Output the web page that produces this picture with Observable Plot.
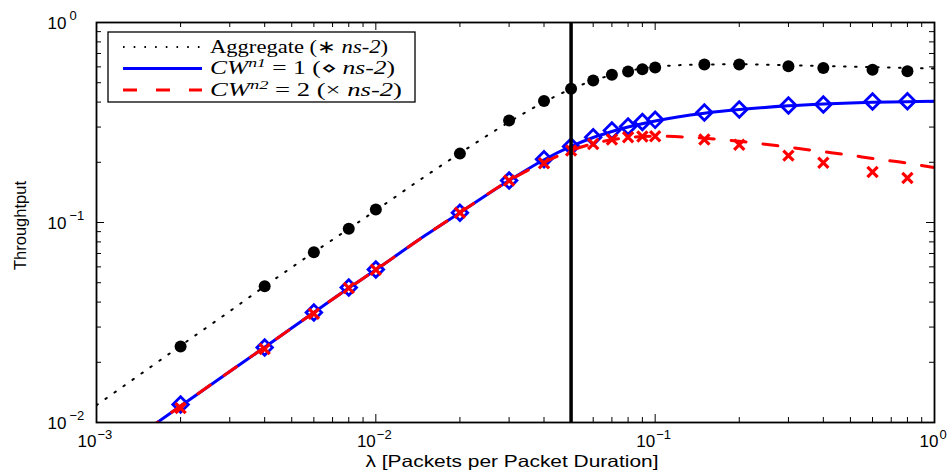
<!DOCTYPE html>
<html>
<head>
<meta charset="utf-8">
<script src="https://cdn.jsdelivr.net/npm/d3@7"></script>
<script src="https://cdn.jsdelivr.net/npm/@observablehq/plot@0.6"></script>
<style>
  html, body { margin: 0; padding: 0; background: #fff; }
  #chart { width: 952px; height: 476px; }
</style>
</head>
<body>
<div id="chart"></div>
<script>
// ---------- data ----------
// simulation (ns-2) sample points
const simX   = [0.002, 0.004, 0.006, 0.008, 0.01, 0.02, 0.03, 0.04, 0.05, 0.06, 0.07, 0.08, 0.09, 0.1, 0.15, 0.2, 0.3, 0.4, 0.6, 0.8];
const aggSim = [0.024, 0.048, 0.071, 0.093, 0.116, 0.221, 0.324, 0.405, 0.466, 0.513, 0.548, 0.569, 0.584, 0.596, 0.617, 0.617, 0.605, 0.593, 0.580, 0.571];
const cw1Sim = [0.0123, 0.0237, 0.0355, 0.0473, 0.0582, 0.112, 0.162, 0.207, 0.240, 0.267, 0.288, 0.302, 0.318, 0.326, 0.355, 0.367, 0.385, 0.389, 0.403, 0.404];
const cw2Sim = [0.0118, 0.0233, 0.035, 0.047, 0.058, 0.112, 0.162, 0.198, 0.229, 0.247, 0.260, 0.267, 0.269, 0.270, 0.260, 0.245, 0.216, 0.199, 0.179, 0.167];

// analytical curves
const aggX = [0.001, 0.0015, 0.002, 0.003, 0.004, 0.006, 0.008, 0.01, 0.015, 0.02, 0.03, 0.04, 0.05, 0.06, 0.07, 0.08, 0.1, 0.15, 0.2, 0.3, 0.4, 0.5, 0.6, 0.8, 1.0];
const aggY = [0.0122, 0.0182, 0.0242, 0.036, 0.048, 0.071, 0.093, 0.115, 0.17, 0.222, 0.318, 0.40, 0.465, 0.512, 0.547, 0.572, 0.600, 0.617, 0.618, 0.612, 0.606, 0.602, 0.598, 0.592, 0.588];
const cwX  = [0.0015, 0.002, 0.003, 0.004, 0.006, 0.008, 0.01, 0.015, 0.02, 0.03, 0.04, 0.05, 0.06, 0.07, 0.08, 0.1, 0.15, 0.2, 0.3, 0.4, 0.5, 0.6, 0.8, 1.0];
const cw1Y = [0.0091, 0.0121, 0.018, 0.0238, 0.0355, 0.047, 0.058, 0.086, 0.112, 0.162, 0.206, 0.240, 0.266, 0.285, 0.300, 0.322, 0.352, 0.367, 0.383, 0.391, 0.396, 0.399, 0.402, 0.404];
const cw2Y = [0.0091, 0.0121, 0.018, 0.0238, 0.0355, 0.047, 0.058, 0.086, 0.112, 0.162, 0.200, 0.229, 0.248, 0.259, 0.266, 0.270, 0.264, 0.255, 0.238, 0.226, 0.217, 0.209, 0.198, 0.188];

const markerX = [0.05];

// ticks
const xMajor = [0.001, 0.01, 0.1, 1];
const xTickExp = ["\u22123", "\u22122", "\u22121", "0"];
const xMinor = [0.002,0.003,0.004,0.005,0.006,0.007,0.008,0.009,
                0.02,0.03,0.04,0.05,0.06,0.07,0.08,0.09,
                0.2,0.3,0.4,0.5,0.6,0.7,0.8,0.9];
const yMajor = [0.01, 0.1, 1];
const yTickExp = ["\u22122", "\u22121", "0"];
const yMinor = [0.02,0.03,0.04,0.05,0.06,0.07,0.08,0.09,
                0.2,0.3,0.4,0.5,0.6,0.7,0.8,0.9];
const tickBase = "10";

const xTitle = "\u03bb [Packets per Packet Duration]";
const yTitle = "Throughtput";

// legend entries
const legendSeries = ["Aggregate", "CW", "CW"];
const legendSup    = ["", "n1", "n2"];
const legendMid    = [" (\u2217 ", " = 1 (\u22c4 ", " = 2 (\u00d7 "];
const legendSim    = "ns-2";

// ---------- layout ----------
const W = 952, H = 476;
const mL = 96, mR = 18, mT = 22, mB = 54;
const iw = W - mL - mR, ih = H - mT - mB;
const sans = "'Liberation Sans', Arial, Helvetica, sans-serif";
const serif = "'Liberation Serif', 'Times New Roman', serif";

const agg = aggX.map((x, i) => ({x, y: aggY[i]}));
const cw1 = cwX.map((x, i) => ({x, y: cw1Y[i]}));
const cw2 = cwX.map((x, i) => ({x, y: cw2Y[i]}));
const sim = simX.map((x, i) => ({x, agg: aggSim[i], c1: cw1Sim[i], c2: cw2Sim[i]}));
const xT = xMajor.map((v, i) => ({v, e: xTickExp[i]}));
const yT = yMajor.map((v, i) => ({v, e: yTickExp[i]}));

const tickLen = {major: 8, minor: 5};
const tickMarks = [];
for (const [vals, len] of [[xMajor, tickLen.major], [xMinor, tickLen.minor]]) {
  tickMarks.push(Plot.tickX(vals, {x: d => d, insetTop: ih - len, stroke: "black", strokeWidth: 1}));
  tickMarks.push(Plot.tickX(vals, {x: d => d, insetBottom: ih - len, stroke: "black", strokeWidth: 1}));
}
for (const [vals, len] of [[yMajor, tickLen.major], [yMinor, tickLen.minor]]) {
  tickMarks.push(Plot.tickY(vals, {y: d => d, insetRight: iw - len, stroke: "black", strokeWidth: 1}));
  tickMarks.push(Plot.tickY(vals, {y: d => d, insetLeft: iw - len, stroke: "black", strokeWidth: 1}));
}

const chart = Plot.plot({
  width: W, height: H,
  marginLeft: mL, marginRight: mR, marginTop: mT, marginBottom: mB,
  x: {type: "log", domain: [1e-3, 1], axis: null},
  y: {type: "log", domain: [1e-2, 1], axis: null},
  style: {background: "white", overflow: "visible", fontFamily: sans},
  marks: [
    ...tickMarks,
    // aggregate
    Plot.line(agg, {x: "x", y: "y", stroke: "black", strokeWidth: 2, strokeDasharray: "1.6,9.4", curve: "monotone-x", clip: true}),
    Plot.dot(sim, {x: "x", y: "agg", r: 6, fill: "black", stroke: "none"}),
    // CW n1 = 1
    Plot.line(cw1, {x: "x", y: "y", stroke: "#0000ff", strokeWidth: 3, curve: "monotone-x", clip: true}),
    Plot.dot(sim, {x: "x", y: "c1", symbol: "diamond2", r: 7, stroke: "#0000ff", strokeWidth: 2.8, fill: "none"}),
    // CW n2 = 2
    Plot.line(cw2, {x: "x", y: "y", stroke: "#ff0000", strokeWidth: 3, strokeDasharray: "15,17", curve: "monotone-x", clip: true}),
    Plot.dot(sim, {x: "x", y: "c2", symbol: "times", r: 4.7, stroke: "#ff0000", strokeWidth: 3.2}),
    // vertical marker
    Plot.ruleX(markerX, {x: d => d, stroke: "black", strokeWidth: 3.5}),
    Plot.frame({stroke: "black", strokeWidth: 1.8}),
    // x tick labels
    Plot.text(xT, {filter: d => d.v < 1, x: "v", text: () => tickBase, frameAnchor: "bottom", textAnchor: "end", dy: 24.5, fontSize: 17, fontFamily: sans}),
    Plot.text(xT, {filter: d => d.v < 1, x: "v", text: "e", frameAnchor: "bottom", textAnchor: "start", dx: 1, dy: 16, fontSize: 13, fontFamily: sans}),
    Plot.text(xT, {filter: d => d.v >= 1, x: "v", text: () => tickBase, frameAnchor: "bottom", textAnchor: "end", dx: 4, dy: 24.5, fontSize: 17, fontFamily: sans}),
    Plot.text(xT, {filter: d => d.v >= 1, x: "v", text: "e", frameAnchor: "bottom", textAnchor: "start", dx: 5, dy: 16, fontSize: 13, fontFamily: sans}),
    // y tick labels
    Plot.text(yT, {y: "v", text: () => tickBase, frameAnchor: "left", textAnchor: "start", dx: -49, dy: 1.5, fontSize: 17, fontFamily: sans}),
    Plot.text(yT, {y: "v", text: "e", frameAnchor: "left", textAnchor: "start", dx: -27, dy: -7, fontSize: 13, fontFamily: sans}),
    // axis titles
    Plot.text([xTitle], {text: d => d, frameAnchor: "bottom", textAnchor: "middle", dx: -3.5, dy: 44.5, fontSize: 16.5, fontFamily: sans}),
    Plot.text([yTitle], {text: d => d, frameAnchor: "left", textAnchor: "middle", rotate: -90, dx: -76, dy: 3, fontSize: 16.5, fontFamily: sans})
  ]
});

document.getElementById("chart").appendChild(chart);

// stretch x title to match the reference width
const svg = d3.select(chart);
svg.selectAll("text").filter(function() { return this.textContent === xTitle; })
  .attr("textLength", 293).attr("lengthAdjust", "spacingAndGlyphs");

// ---------- legend ----------
const leg = svg.append("g").attr("class", "legend").attr("text-anchor", "start");
leg.append("rect").attr("x", 108).attr("y", 32).attr("width", 307).attr("height", 70)
  .attr("fill", "white").attr("stroke", "black").attr("stroke-width", 1.3);
const rowY = [47, 68.5, 90];
const lineStyles = [
  {stroke: "black", width: 2, dash: "1.6,9.1"},
  {stroke: "#0000ff", width: 3, dash: null},
  {stroke: "#ff0000", width: 3, dash: "14,19"}
];
const textLens = [178, 185, 192];
legendSeries.forEach((name, i) => {
  const st = lineStyles[i];
  const ln = leg.append("line").attr("x1", 123).attr("x2", 202).attr("y1", rowY[i]).attr("y2", rowY[i])
    .attr("stroke", st.stroke).attr("stroke-width", st.width);
  if (st.dash) ln.attr("stroke-dasharray", st.dash);
  const t = leg.append("text").attr("x", 210).attr("y", rowY[i] + 5.5)
    .attr("text-anchor", "start")
    .attr("font-family", serif).attr("font-size", 18).attr("fill", "black")
    .attr("textLength", textLens[i]).attr("lengthAdjust", "spacingAndGlyphs");
  if (legendSup[i]) {
    t.append("tspan").attr("font-style", "italic").text(name);
    t.append("tspan").attr("font-style", "italic").attr("font-size", 12.5).attr("dy", -7).text(legendSup[i]);
    t.append("tspan").attr("dy", 7).text(legendMid[i]);
  } else {
    t.append("tspan").text(name);
    t.append("tspan").text(legendMid[i]);
  }
  t.append("tspan").attr("font-style", "italic").text(legendSim);
  t.append("tspan").text(")");
});
</script>
</body>
</html>
